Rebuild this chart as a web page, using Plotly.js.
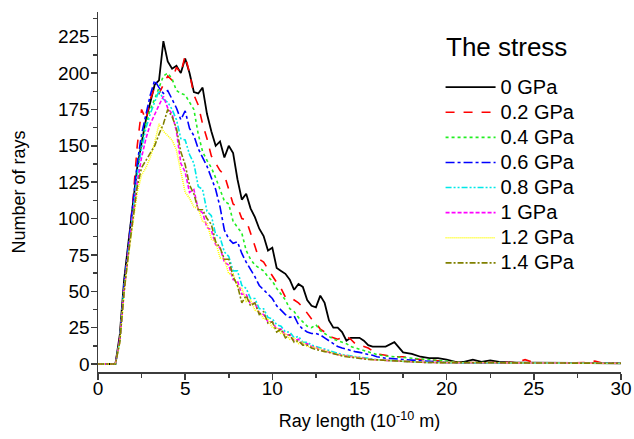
<!DOCTYPE html>
<html>
<head>
<meta charset="utf-8">
<script src="https://cdn.plot.ly/plotly-3.0.1.min.js"></script>
<style>html,body{margin:0;padding:0;background:#fff;}#chart{width:634px;height:439px;}</style>
</head>
<body>
<div id="chart"></div>
<script>
// Ray length (10^-10 m): step 0.25 up to 16, then 0.5 up to 30
var rayLength = [
  0,0.25,0.5,0.75,1,1.25,1.5,1.75,2,2.25,2.5,2.75,3,3.25,3.5,3.75,4,4.25,4.5,4.75,5,
  5.25,5.5,5.75,6,6.25,6.5,6.75,7,7.25,7.5,7.75,8,8.25,8.5,8.75,9,9.25,9.5,9.75,10,
  10.25,10.5,10.75,11,11.25,11.5,11.75,12,12.25,12.5,12.75,13,13.25,13.5,13.75,14,
  14.25,14.5,14.75,15,15.25,15.5,15.75,16,
  16.5,17,17.5,18,18.5,19,19.5,20,20.5,21,21.5,22,22.5,23,23.5,24,24.5,25,
  25.5,26,26.5,27,27.5,28,28.5,29,29.5,30
];

var seriesNames = ['0 GPa','0.2 GPa','0.4 GPa','0.6 GPa','0.8 GPa','1 GPa','1.2 GPa','1.4 GPa'];
var legendTitle = 'The stress';

var rays0GPa = [
  0,0,0,0,0, 20,58,84,108, 135,152,168,180, 192,195,222,208, 203,205,200,210,
  200,187,186,190, 172,160,150,153, 142,150,145,127, 113,117,107,101, 93,88,78,80,
  66,64,62,58, 51,55,53,44, 40,39,47,42, 30,25,25,22, 16,18,18,18, 16,13,12,12,
  12,15,8,7,5,4,4,3, 1.5,1.5,3,1.5,2.5,1.5,1,1,1,1, 0.8,0.5,0.5,0.5,0.5,0.5,0.5,0.5,0.5,0.5
];
var rays02GPa = [
  0,0,0,0,0, 18,55,82,112, 150,175,168,182, 190,186,192,198, 195,204,200,212,
  200,185,178,165, 155,143,138,133, 130,120,110,108, 100,99,90,82, 72,70,65,60,
  56,52,46,46, 44,42,39,35, 31,28,24,22, 19,18,17,18, 19,17,14,13, 12,11,9,7,
  6,5,5,4,3,3,2,1.5, 1,1,1,1,1,1,0.8,1,3,1, 0.5,0.5,0.5,0.5,0.5,1,2,0.5,0.5,0.5
];
var rays04GPa = [
  0,0,0,0,0, 17,54,80,105, 135,155,165,175, 182,190,198,200, 196,188,186,185,
  180,175,158,146, 140,135,128,120, 112,110,98,94, 90,78,72,68, 66,64,60,57,
  52,48,44,38, 36,32,29,26, 25,27,23,21, 19,17,16,15, 14,12,11,10, 9,8,7,6.5,
  5.5,5,4,3.5,3,2.5,2,1.5, 1.2,1,1,1,0.8,0.8,0.8,0.8,0.8,0.8, 0.5,0.5,0.5,0.5,0.5,0.5,0.5,0.5,0.5,0.5
];
var rays06GPa = [
  0,0,0,0,0, 17,55,82,108, 138,158,172,185, 195,190,186,188, 182,176,168,174,
  162,157,148,142, 136,128,120,108, 92,86,83,84, 76,70,65,60, 54,51,48,45,
  40,37,34,32, 33,27,24,22, 21,21,20,18, 16,14,12,11, 10,9,8.5,8, 7,6.5,6,5,
  4,3.5,3,2.5,2,1.5,1.2,1, 0.8,0.8,0.8,0.8,0.8,0.8,0.6,0.6,0.6,0.6, 0.5,0.5,0.5,0.5,0.5,0.5,0.5,0.5,0.5,0.5
];
var rays08GPa = [
  0,0,0,0,0, 16,52,78,104, 130,148,162,172, 180,188,182,180, 175,168,155,154,
  144,138,122,120, 105,102,89,87, 77,74,64,64, 54,52,45,45, 38,38,32,31,
  27,26,22,22, 18,19,15,15, 13,12,11,10, 9,8,7,6.5, 6,5.5,5,4.5, 4,3.5,3.2,3,
  2.5,2,1.8,1.5,1.2,1,1,0.8, 0.8,0.7,0.7,0.6,0.6,0.6,0.5,0.5,0.5,0.5, 0.5,0.5,0.5,0.5,0.5,0.5,0.5,0.5,0.5,0.5
];
var rays1GPa = [
  0,0,0,0,0, 16,50,78,102, 125,142,155,165, 172,178,184,176, 172,160,138,132,
  118,120,106,104, 94,92,82,80, 70,68,58,57, 48,48,41,42, 35,34,29,29,
  24,24,20,20, 16,17,13,14, 12,11.5,9.5,9.5, 8,7,6.5,6, 5.5,5,4.5,4, 3.5,3.2,3,2.8,
  2.4,2,1.8,1.5,1.2,1,1,0.8, 0.7,0.7,0.6,0.6,0.6,0.5,0.5,0.5,0.5,0.5, 0.5,0.5,0.5,0.5,0.5,0.5,0.5,0.5,0.5,0.5
];
var rays12GPa = [
  0,0,0,0,0, 15,50,75,98, 118,130,135,142, 152,165,160,157, 154,147,133,118,
  114,108,107,98, 97,86,84,73, 72,62,62,53, 52,43,44,37, 36,31,31,25,
  25,21,21,17, 18,14,15,12, 12,11,10,9, 8,7,6.5,6, 5.5,5,4.5,4, 3.5,3.2,3,2.8,
  2.4,2,1.8,1.5,1.2,1,1,0.8, 0.7,0.7,0.6,0.6,0.6,0.5,0.5,0.5,0.5,0.5, 0.5,0.5,0.5,0.5,0.5,0.5,0.5,0.5,0.5,0.5
];
var rays14GPa = [
  0,0,0,0,0, 15,50,76,100, 122,135,140,145, 150,158,165,175, 170,162,146,137,
  123,117,106,106, 100,96,84,80, 72,72,60,54, 42,47,40,42, 34,36,28,29,
  22,24,18,20, 15,16,13,13, 11,10,9,8.5, 8,7,6,5.5, 5,4.5,4,3.8, 3.5,3.2,3,2.8,
  2.4,2,1.8,1.5,1.2,1,1,0.8, 0.7,0.7,0.6,0.6,0.6,0.5,0.5,0.5,0.5,0.5, 0.5,0.5,0.5,0.5,0.5,0.5,0.5,0.5,0.5,0.5
];

var xTickVals = [0,5,10,15,20,25,30];
var yTickVals = [0,25,50,75,100,125,150,175,200,225];

var allSeries = [rays0GPa, rays02GPa, rays04GPa, rays06GPa, rays08GPa, rays1GPa, rays12GPa, rays14GPa];
var colors = ['#000000','#ff0000','#22ee22','#0000ff','#00e8e8','#ff00ff','#ffff00','#808000'];
var dashes = ['solid','dash','dot','dashdot','6px,2px,2px,2px,2px,2px','4px,2px','1px,1px','6px,2px,2px,2px'];
var widths = [1.8,1.6,1.6,1.6,1.6,1.6,1.6,1.6];

var traces = allSeries.map(function(ys, i){
  return {
    x: rayLength, y: ys, type:'scatter', mode:'lines',
    name: '<span style="font-size:20px">' + seriesNames[i] + '</span>',
    line:{color:colors[i], width:widths[i], dash:dashes[i]}
  };
});

var axisColor = '#3c3c3c';
var layout = {
  width:634, height:439,
  margin:{l:98, r:13, t:12, b:67},
  paper_bgcolor:'#fff', plot_bgcolor:'#fff',
  font:{family:'"Liberation Sans", Arial, sans-serif', size:18, color:'#000'},
  showlegend:true,
  legend:{
    x:0.655, y:0.84, xanchor:'left', yanchor:'top',
    bgcolor:'rgba(0,0,0,0)', borderwidth:0,
    font:{size:17, color:'#000'},
    itemwidth:50
  },
  annotations:[{
    text:legendTitle, xref:'paper', yref:'paper', x:0.6615, y:0.903,
    xanchor:'left', yanchor:'middle', showarrow:false,
    font:{size:26, color:'#000'}
  }],
  xaxis:{
    range:[0,30], tickvals:xTickVals, ticks:'outside', ticklen:6, tickwidth:1.5, tickcolor:axisColor,
    showline:true, linecolor:axisColor, linewidth:1.5, showgrid:false, zeroline:false,
    minor:{dtick:2.5, tick0:0, ticks:'outside', ticklen:4, tickwidth:1.5, tickcolor:axisColor, showgrid:false},
    tickfont:{size:19}, ticklabelstandoff:-7,
    title:{text:'Ray length (10<sup>-10</sup> m)', font:{size:18}, standoff:16}
  },
  yaxis:{
    range:[-5.5,242], tickvals:yTickVals, ticks:'outside', ticklen:6, tickwidth:1.5, tickcolor:axisColor,
    showline:true, linecolor:axisColor, linewidth:1.5, showgrid:false, zeroline:false,
    minor:{dtick:12.5, tick0:0, ticks:'outside', ticklen:4, tickwidth:1.5, tickcolor:axisColor, showgrid:false},
    tickfont:{size:19}, ticklabelstandoff:-3,
    title:{text:'Number of rays', font:{size:18}, standoff:27}
  }
};

Plotly.newPlot('chart', traces, layout, {displayModeBar:false, staticPlot:true});
</script>
</body>
</html>
